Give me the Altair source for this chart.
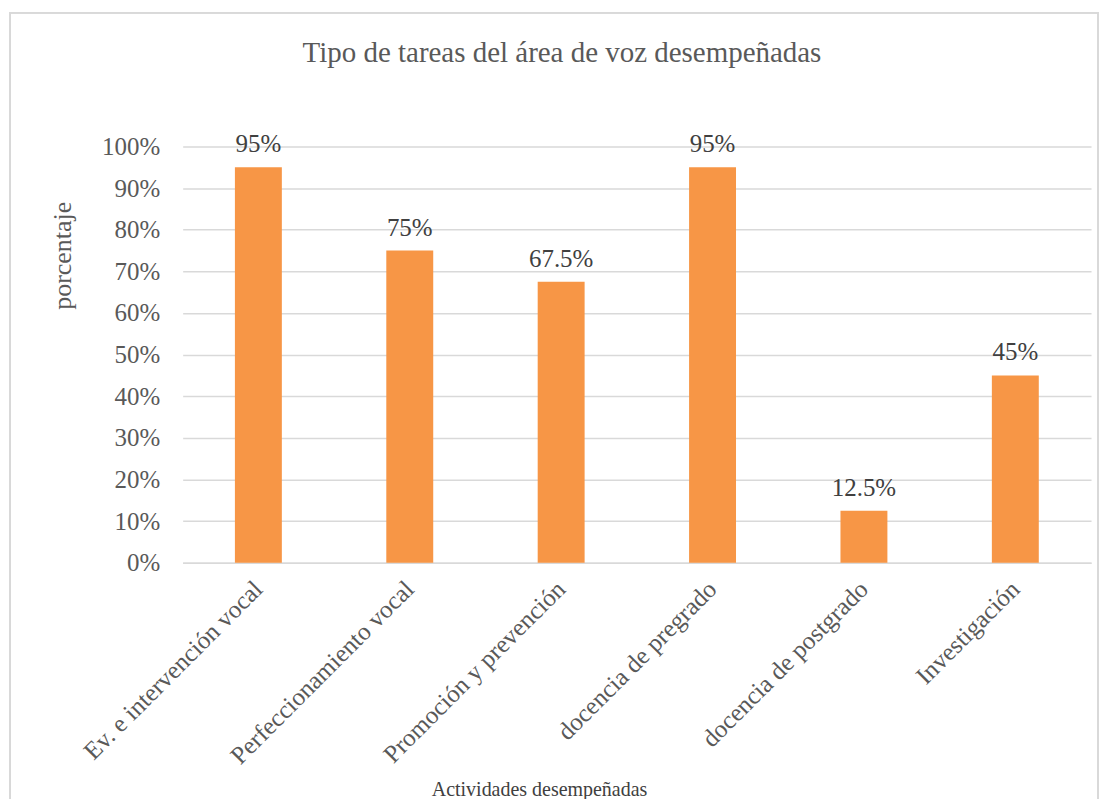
import altair as alt
import pandas as pd

categories = ["Ev. e intervención vocal", "Perfeccionamiento vocal", "Promoción y prevención",
              "docencia de pregrado", "docencia de postgrado", "Investigación"]
values = [95, 75, 67.5, 95, 12.5, 45]
labels = ["95%", "75%", "67.5%", "95%", "12.5%", "45%"]

df = pd.DataFrame({"cat": categories, "val": values, "lab": labels})

FONT = "Liberation Serif"
W, H = 910, 417

x = alt.X("cat:N", sort=categories,
          scale=alt.Scale(paddingInner=0.69, paddingOuter=0.345),
          axis=alt.Axis(title="Actividades desempeñadas", labelAngle=-45, labelAlign="right",
                        labelBaseline="middle", labelFontSize=25, labelColor="#595959",
                        labelFont=FONT, labelPadding=22, ticks=False, domainColor="#d9d9d9",
                        domainWidth=1.5, labelLimit=400,
                        titleFont=FONT, titleFontSize=20, titleFontWeight="normal",
                        titleColor="#404040", titleX=357, titleY=227, titleAlign="center",
                        titleBaseline="middle"))
y = alt.Y("val:Q",
          scale=alt.Scale(domain=[0, 100]),
          axis=alt.Axis(title="porcentaje", values=list(range(0, 101, 10)),
                        labelExpr="datum.value + '%'", labelFontSize=25, labelColor="#595959",
                        labelFont=FONT, labelPadding=23, ticks=False, domain=False,
                        gridColor="#d9d9d9", gridWidth=1.5,
                        titleFont=FONT, titleFontSize=26, titleFontWeight="normal",
                        titleColor="#595959", titleX=-120, titleY=109, titleAlign="center",
                        titleBaseline="middle", titleAngle=-90))

bars = alt.Chart(df).mark_bar(color="#F79646").encode(x=x, y=y)
text = alt.Chart(df).mark_text(baseline="bottom", dy=-10, fontSize=25, font=FONT,
                               color="#404040").encode(
    x=alt.X("cat:N", sort=categories), y="val:Q", text="lab:N")

frame = alt.Chart(df).mark_rect(fill=None, stroke="#d9d9d9", strokeWidth=1.5).encode(
    x=alt.value(-173), x2=alt.value(917), y=alt.value(-134), y2=alt.value(700))

chart = alt.layer(frame, bars, text).properties(
    width=W, height=H,
    autosize=alt.AutoSizeParams(type="none"),
    padding={"left": 175, "top": 138, "right": 10, "bottom": 236},
    title=alt.TitleParams("Tipo de tareas del área de voz desempeñadas", font=FONT, fontSize=29,
                          fontWeight="normal", color="#595959", anchor="middle", dx=-75,
                          offset=0, dy=56)
).configure(background="white").configure_view(stroke=None)

chart.save("out.html", embed_options={"renderer": "svg", "actions": False})
